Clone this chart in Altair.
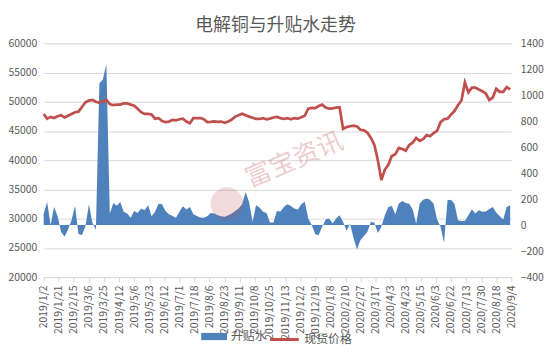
import altair as alt
import pandas as pd

# ---- data ----
x_labels = ["2019/1/2", "2019/1/21", "2019/2/15", "2019/3/6", "2019/3/25", "2019/4/12",
            "2019/5/6", "2019/5/23", "2019/6/12", "2019/7/1", "2019/7/18", "2019/8/6",
            "2019/8/23", "2019/9/11", "2019/10/8", "2019/10/25", "2019/11/13", "2019/12/2",
            "2019/12/19", "2020/1/8", "2020/2/10", "2020/2/27", "2020/3/17", "2020/4/3",
            "2020/4/23", "2020/5/15", "2020/6/3", "2020/6/22", "2020/7/13", "2020/7/30",
            "2020/8/18", "2020/9/4"]
label_step = 13      # trading days between two category labels
sample_step = 3      # trading days between two read values

# spot price (left axis), one value every 3 trading days
price = [47900, 47100, 47400, 47200, 47500, 47700, 47300, 47600, 47900, 48200,
         48300, 49100, 49900, 50200, 50300, 50000, 49800, 50100, 50300, 49600,
         49400, 49500, 49500, 49700, 49700, 49500, 49300, 48800, 48200, 47900,
         47900, 47800, 47100, 47200, 46700, 46500, 46600, 46900, 46800, 47000,
         47100, 46600, 46300, 47200, 47200, 47200, 47000, 46500, 46550, 46650,
         46550, 46600, 46400, 46600, 46950, 47450, 47700, 47950, 47700, 47450,
         47250, 47050, 47050, 47200, 47000, 47100, 47300, 47400, 47200, 47050,
         47200, 47000, 47200, 47100, 47350, 47600, 48800, 48950, 48900, 49250,
         49500, 49000, 48800, 48850, 49000, 49050, 45350, 45650, 45800, 45900,
         45750, 45200, 45100, 44700, 43800, 42600, 40000, 36600, 38400, 39200,
         40700, 41000, 42100, 41900, 41600, 42600, 43000, 43800, 43300, 43600,
         44300, 44100, 44650, 45000, 46500, 47000, 47100, 47800, 48400, 49400,
         50200, 53300, 51600, 52400, 52400, 52100, 51800, 51400, 50300, 50700,
         52200, 51700, 51700, 52500, 52100]

# premium / discount (right axis), same sampling
premium = [89, 178, 0, 140, 69, -51, -89, -33, 38, 150,
           -69, -76, -8, 160, 18, -38, 1090, 1120, 1240, 90,
           170, 150, 178, 102, 89, 56, 109, 94, 127, 115,
           153, 69, 102, 165, 160, 109, 84, 71, 56, 102,
           145, 120, 140, 84, 71, 59, 56, 69, 94, 89,
           76, 69, 64, 76, 89, 109, 127, 160, 254, 178,
           25, 153, 135, 102, 94, 20, 20, 109, 105, 140,
           160, 148, 127, 120, 160, 180, 51, 0, -71, -76,
           -13, 43, 51, 13, 51, 76, 25, -43, 13, -100,
           -185, -115, -84, -51, 25, 18, -60, -13, 76, 140,
           148, 84, 165, 186, 170, 165, 120, 13, 165, 196,
           204, 196, 165, 45, -13, -135, 191, 196, 165, 38,
           31, 33, 76, 122, 89, 115, 102, 104, 125, 140,
           97, 69, 43, 140, 153]

series_area = "升贴水"
series_line = "现货价格"
title_text = "电解铜与升贴水走势"
watermark = "富宝资讯"

price_ticks = [20000, 25000, 30000, 35000, 40000, 45000, 50000, 55000, 60000]
premium_ticks = [-400, -200, 0, 200, 400, 600, 800, 1000, 1200, 1400]

# ---- table built from the lists ----
df = pd.DataFrame({
    "idx": [i * sample_step for i in range(len(price))],
    "price": price,
    "premium": premium,
    "s_area": [series_area] * len(price),
    "s_line": [series_line] * len(price),
})

last_idx = (len(x_labels) - 1) * label_step
label_js = "[" + ",".join("'" + s + "'" for s in x_labels) + "]"

FONT = "Noto Sans CJK SC"
TXT = "#595959"
GRID = "#D9D9D9"

x_enc = alt.X(
    "idx:Q",
    title="",
    scale=alt.Scale(domain=[0, last_idx], nice=False, zero=False),
    axis=alt.Axis(
        values=[i * label_step for i in range(len(x_labels))],
        labelExpr=label_js + "[round(datum.value/" + str(label_step) + ")]",
        labelAngle=-90, labelFontSize=10.5, labelColor=TXT, labelFont=FONT,
        labelPadding=3, labelOverlap=False, labelFlush=False,
        grid=False, domainColor=GRID, tickColor=GRID, tickSize=5,
    ),
)

area = alt.Chart(df).mark_area(opacity=1, interpolate="linear").encode(
    x=x_enc,
    y=alt.Y("premium:Q", title="",
            scale=alt.Scale(domain=[-400, 1400], nice=False, zero=False),
            axis=alt.Axis(orient="right", values=premium_ticks, format="d", grid=False,
                          domain=False, ticks=False, labelPadding=9,
                          labelFontSize=10.5, labelColor=TXT, labelFont=FONT)),
    y2=alt.datum(0),
    color=alt.Color("s_area:N", title=None,
                    scale=alt.Scale(domain=[series_area], range=["#4F81BD"]),
                    legend=alt.Legend(orient="none", legendX=159, legendY=283,
                                      symbolType="M-1,-0.28H1V0.28H-1Z", symbolSize=676,
                                      symbolStrokeWidth=0, labelFontSize=12,
                                      labelColor=TXT, labelFont=FONT, padding=0,
                                      labelOffset=4)),
)

line = alt.Chart(df).mark_line(strokeWidth=2.75, interpolate="linear").encode(
    x=x_enc,
    y=alt.Y("price:Q", title="",
            scale=alt.Scale(domain=[20000, 60000], nice=False, zero=False),
            axis=alt.Axis(orient="left", values=price_ticks, format="d", grid=True,
                          gridColor=GRID, domain=False, ticks=False, labelPadding=7,
                          labelFontSize=10.5, labelColor=TXT, labelFont=FONT)),
    color=alt.Color("s_line:N", title=None,
                    scale=alt.Scale(domain=[series_line], range=["#C0504D"]),
                    legend=alt.Legend(orient="none", legendX=227, legendY=283,
                                      symbolType="stroke", symbolSize=841,
                                      symbolStrokeWidth=3, labelFontSize=12,
                                      labelColor=TXT, labelFont=FONT, padding=0,
                                      labelOffset=4)),
)

wm_df = pd.DataFrame({"t": [watermark]})
wm_text = alt.Chart(wm_df).mark_text(
    angle=337, fontSize=26, font=FONT, color="#C0504D", opacity=0.28,
    align="center", baseline="middle",
).encode(x=alt.value(253), y=alt.value(118), text="t:N")

wm_logo = alt.Chart(wm_df).mark_circle(
    color="#C0504D", opacity=0.2, size=1100,
).encode(x=alt.value(185), y=alt.value(162))

chart = alt.layer(area, line, wm_logo, wm_text).resolve_scale(
    y="independent", color="independent"
).properties(
    width=472, height=236,
    padding={"left": 36, "top": 34, "right": 36, "bottom": 70},
    autosize=alt.AutoSizeParams(type="none"),
    title=alt.TitleParams(title_text, fontSize=18, font=FONT, color=TXT,
                          fontWeight="normal", anchor="middle", frame="group",
                          offset=3, dx=-2),
    background="white",
).configure_view(strokeWidth=0)

chart.save("out.html", embed_options={"renderer": "svg", "actions": False})
